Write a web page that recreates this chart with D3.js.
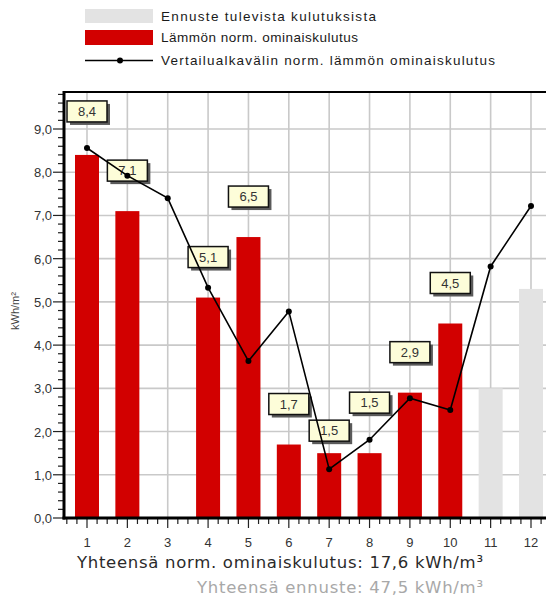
<!DOCTYPE html>
<html>
<head>
<meta charset="utf-8">
<script src="https://cdn.jsdelivr.net/npm/d3@7"></script>
<style>
  html, body { margin: 0; padding: 0; background: #fff; }
  svg { display: block; font-family: "Liberation Sans", Arial, sans-serif; }
</style>
</head>
<body>
<svg id="chart" width="546" height="599"></svg>
<script>
// Months of the period
const categories = ["1", "2", "3", "4", "5", "6", "7", "8", "9", "10", "11", "12"];
// Normalised specific heat consumption (kWh/m²), null = no reading
const heatValues = [8.4, 7.1, null, 5.1, 6.5, 1.7, 1.5, 1.5, 2.9, 4.5, null, null];
// Forecast for the coming months
const forecastValues = [null, null, null, null, null, null, null, null, null, null, 3.0, 5.3];
// Comparison period, normalised specific heat consumption
const referenceValues = [8.56, 7.92, 7.40, 5.33, 3.63, 4.78, 1.13, 1.81, 2.77, 2.50, 5.82, 7.22];
// Value axis ticks
const yTicks = [0, 1, 2, 3, 4, 5, 6, 7, 8, 9];
// Legend entries
const legendLabels = [
  "Ennuste tulevista kulutuksista",
  "Lämmön norm. ominaiskulutus",
  "Vertailualkavälin norm. lämmön ominaiskulutus"
];
const totalHeat = 17.6;
const totalForecast = 47.5;

const fi = d3.formatLocale({ decimal: ",", thousands: " ", grouping: [3], currency: ["", " €"] });
const f1 = fi.format(".1f");

const svg = d3.select("#chart");

// Plot frame
const plotLeft = 64, plotTop = 92, plotBottom = 518, plotRight = 560;

const x = d3.scalePoint().domain(categories).range([87, 531]);
const step = x.step();
const barW = 24;
const y = d3.scaleLinear().domain([0, 9]).range([plotBottom, 129]);

const RED = "#d20000";
const GREY_BAR = "#e3e3e3";
const GRID = "#c9c9c9";

// Grid
const grid = svg.append("g");
grid.selectAll("line.h").data(yTicks.filter(d => d > 0)).join("line")
  .attr("x1", plotLeft).attr("x2", plotRight)
  .attr("y1", d => y(d)).attr("y2", d => y(d))
  .attr("stroke", GRID).attr("stroke-width", 1.6);
grid.selectAll("line.v").data(categories).join("line")
  .attr("x1", d => x(d)).attr("x2", d => x(d))
  .attr("y1", plotTop).attr("y2", plotBottom)
  .attr("stroke", GRID).attr("stroke-width", 1.6);

// Forecast bars
svg.append("g").selectAll("rect")
  .data(categories.map((c, i) => ({ c, v: forecastValues[i] })).filter(d => d.v != null))
  .join("rect")
  .attr("x", d => x(d.c) - barW / 2)
  .attr("y", d => y(d.v))
  .attr("width", barW)
  .attr("height", d => y(0) - y(d.v))
  .attr("fill", GREY_BAR);

// Heat consumption bars
const heatData = categories.map((c, i) => ({ c, i, v: heatValues[i] })).filter(d => d.v != null);
svg.append("g").selectAll("rect")
  .data(heatData)
  .join("rect")
  .attr("x", d => x(d.c) - barW / 2)
  .attr("y", d => y(d.v))
  .attr("width", barW)
  .attr("height", d => y(0) - y(d.v))
  .attr("fill", RED);

// Value callouts above the bars (some shifted to keep them apart)
const labelLift = { 0: 33, 6: 12, 7: 40 };
const boxW = 40, boxH = 21;
const labels = svg.append("g").selectAll("g").data(heatData).join("g")
  .attr("transform", d => {
    const bottom = y(d.v) - (labelLift[d.i] ?? 30);
    return `translate(${x(d.c) - boxW / 2},${bottom - boxH})`;
  });
labels.append("rect")
  .attr("x", 3).attr("y", 3).attr("width", boxW).attr("height", boxH)
  .attr("fill", "#5a5a5a");
labels.append("rect")
  .attr("width", boxW).attr("height", boxH)
  .attr("fill", "#fdfdd9").attr("stroke", "#111").attr("stroke-width", 1.5);
labels.append("text")
  .attr("x", boxW / 2).attr("y", boxH / 2 + 4.5)
  .attr("text-anchor", "middle")
  .attr("font-size", 13).attr("fill", "#333")
  .text(d => f1(d.v));

// Comparison line
const refData = categories.map((c, i) => ({ c, v: referenceValues[i] }));
svg.append("path")
  .datum(refData)
  .attr("d", d3.line().x(d => x(d.c)).y(d => y(d.v)))
  .attr("fill", "none").attr("stroke", "#000").attr("stroke-width", 1.6);
svg.append("g").selectAll("circle").data(refData).join("circle")
  .attr("cx", d => x(d.c)).attr("cy", d => y(d.v)).attr("r", 3)
  .attr("fill", "#000");

// Y axis: major ticks with labels, minor ticks every 0.2
const yAxisG = svg.append("g");
const minorY = d3.range(0, 50).map(k => k * 0.2).filter(v => Math.abs(v - Math.round(v)) > 1e-6);
yAxisG.selectAll("line.minor").data(minorY).join("line")
  .attr("x1", plotLeft - 6).attr("x2", plotLeft)
  .attr("y1", d => y(d)).attr("y2", d => y(d))
  .attr("stroke", "#222").attr("stroke-width", 1.2);
yAxisG.selectAll("line.major").data(yTicks).join("line")
  .attr("x1", plotLeft - 11).attr("x2", plotLeft)
  .attr("y1", d => y(d)).attr("y2", d => y(d))
  .attr("stroke", "#222").attr("stroke-width", 1.2);
yAxisG.selectAll("text").data(yTicks).join("text")
  .attr("x", plotLeft - 12).attr("y", d => y(d) + 5)
  .attr("text-anchor", "end")
  .attr("font-size", 13).attr("fill", "#333")
  .text(d => f1(d));
svg.append("text")
  .attr("transform", `translate(19,${(plotTop + plotBottom) / 2 + 6}) rotate(-90)`)
  .attr("text-anchor", "middle")
  .attr("font-size", 11).attr("fill", "#444")
  .text("kWh/m²");

// X axis: major ticks at months, minor ticks at quarter steps
const xAxisG = svg.append("g");
const minorX = d3.range(-2, 48).map(k => x(categories[0]) + k * step / 4)
  .filter((v, k) => (k + 2) % 4 !== 0 && v > plotLeft + 1 && v < 546);
xAxisG.selectAll("line.minor").data(minorX).join("line")
  .attr("x1", d => d).attr("x2", d => d)
  .attr("y1", plotBottom).attr("y2", plotBottom + 6)
  .attr("stroke", "#222").attr("stroke-width", 1.2);
xAxisG.selectAll("line.major").data(categories).join("line")
  .attr("x1", d => x(d)).attr("x2", d => x(d))
  .attr("y1", plotBottom).attr("y2", plotBottom + 10)
  .attr("stroke", "#222").attr("stroke-width", 1.2);
xAxisG.selectAll("text").data(categories).join("text")
  .attr("x", d => x(d)).attr("y", plotBottom + 29)
  .attr("text-anchor", "middle")
  .attr("font-size", 13).attr("fill", "#333")
  .text(d => d);

// Frame lines
svg.append("line")
  .attr("x1", plotLeft).attr("x2", plotLeft)
  .attr("y1", plotTop - 1).attr("y2", plotBottom + 1.5)
  .attr("stroke", "#000").attr("stroke-width", 3);
svg.append("line")
  .attr("x1", plotLeft - 1.5).attr("x2", 546)
  .attr("y1", plotBottom).attr("y2", plotBottom)
  .attr("stroke", "#000").attr("stroke-width", 3);
svg.append("line")
  .attr("x1", plotLeft).attr("x2", 546)
  .attr("y1", plotTop).attr("y2", plotTop)
  .attr("stroke", "#000").attr("stroke-width", 2);

// Legend
const legend = svg.append("g");
legend.append("rect").attr("x", 85).attr("y", 9).attr("width", 68).attr("height", 14).attr("fill", GREY_BAR);
legend.append("rect").attr("x", 85).attr("y", 30).attr("width", 68).attr("height", 15).attr("fill", RED);
legend.append("line").attr("x1", 85).attr("x2", 153).attr("y1", 60.5).attr("y2", 60.5)
  .attr("stroke", "#000").attr("stroke-width", 1.6);
legend.append("circle").attr("cx", 120).attr("cy", 60.5).attr("r", 3).attr("fill", "#000");
const legendY = [20.5, 42, 65];
const legendLen = [215, 197, 334];
legend.selectAll("text").data(legendLabels).join("text")
  .attr("x", 161).attr("y", (d, i) => legendY[i])
  .attr("font-size", 13.5).attr("fill", "#1a1a1a")
  .attr("textLength", (d, i) => legendLen[i]).attr("lengthAdjust", "spacing")
  .text(d => d);

// Totals
svg.append("text")
  .attr("x", 77).attr("y", 568)
  .attr("font-family", "'DejaVu Sans', Verdana, sans-serif")
  .attr("font-size", 16.5).attr("fill", "#2a2a2a")
  .attr("textLength", 406).attr("lengthAdjust", "spacing")
  .text(`Yhteensä norm. ominaiskulutus: ${f1(totalHeat)} kWh/m³`);
svg.append("text")
  .attr("x", 197).attr("y", 593)
  .attr("font-family", "'DejaVu Sans', Verdana, sans-serif")
  .attr("font-size", 16.5).attr("fill", "#a8a8a8")
  .attr("textLength", 286).attr("lengthAdjust", "spacing")
  .text(`Yhteensä ennuste: ${f1(totalForecast)} kWh/m³`);
</script>
</body>
</html>
